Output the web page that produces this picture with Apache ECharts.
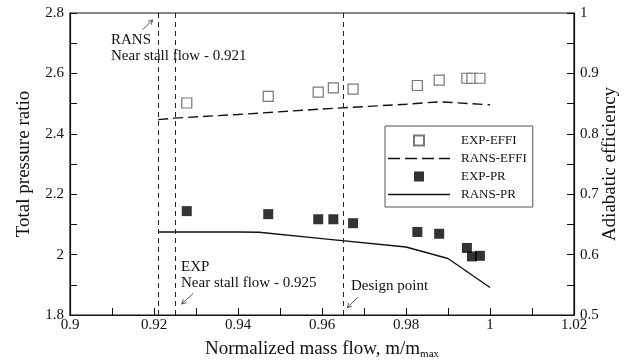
<!DOCTYPE html>
<html lang="en">
<head>
    <meta charset="UTF-8">
    <title>Pressure ratio and efficiency</title>
    <script src="https://cdn.jsdelivr.net/npm/echarts@6/dist/echarts.min.js"></script>
    <style>
        body { margin: 0; background: #fff; }
    </style>
</head>
<body>
    <div id="main" style="width: 631px; height: 362px;"></div>
    <script>
        // experiment: mass flow points (shared by both measured series)
        const expFlow = [0.9278, 0.9472, 0.9591, 0.9627, 0.9674, 0.9827, 0.9879, 0.9945, 0.9957, 0.9976];
        const expEffi = [0.851, 0.862, 0.869, 0.876, 0.874, 0.880, 0.889, 0.892, 0.892, 0.892];
        const expPr = [2.144, 2.134, 2.117, 2.117, 2.104, 2.075, 2.069, 2.022, 1.994, 1.996];

        // RANS curves
        const ransEffFlow = [0.921, 0.925, 0.94, 0.96, 0.98, 0.988, 1.0];
        const ransEffi = [0.8235, 0.826, 0.832, 0.841, 0.849, 0.853, 0.848];
        const ransPrFlow = [0.921, 0.94, 0.945, 0.96, 0.98, 0.99, 1.0];
        const ransPr = [2.075, 2.075, 2.074, 2.053, 2.025, 1.987, 1.891];

        // vertical markers: RANS stall, EXP stall, design point
        const markerFlows = [0.921, 0.925, 0.965];

        const serif = '"Liberation Serif", "DejaVu Serif", serif';
        const pair = (xs, ys) => xs.map((x, i) => [x, ys[i]]);

        // legend icons drawn as paths (keep aspect -> thin bars / squares)
        const iconSquare = 'path://M0,0H10V10H0Z';
        const iconSolid = 'path://M0,0H62V1.4H0Z';
        const iconDashed = 'path://M0,0H12V1.4H0Z M17,0H29V1.4H17Z M34,0H46V1.4H34Z M51,0H62V1.4H51Z';

        var myChart = echarts.init(document.getElementById('main'));

        // little arrow drawn as a line plus a two-stroke head at (x2, y2)
        function arrow(x1, y1, x2, y2) {
            const a = Math.atan2(y2 - y1, x2 - x1), h = 5, s = 0.5;
            return {
                type: 'group',
                children: [
                    { type: 'line', shape: { x1: x1, y1: y1, x2: x2, y2: y2 }, style: { stroke: '#333', lineWidth: 0.8 } },
                    { type: 'polyline', shape: { points: [
                        [x2 - h * Math.cos(a - s), y2 - h * Math.sin(a - s)],
                        [x2, y2],
                        [x2 - h * Math.cos(a + s), y2 - h * Math.sin(a + s)]
                    ] }, style: { stroke: '#333', lineWidth: 0.8, fill: null } }
                ]
            };
        }

        function note(x, y, text) {
            return {
                type: 'text', left: x, top: y,
                style: { text: text, font: '15px ' + serif, fill: '#111', lineHeight: 16 }
            };
        }

        const oddHidden = (step) => function (v) {
            const k = Math.round(v / step);
            return k % 2 === 0 ? String(+v.toFixed(2)) : '';
        };

        option = {
            animation: false,
            backgroundColor: '#fff',
            textStyle: { fontFamily: serif, color: '#111' },
            grid: {
                left: 70, right: 57, top: 13, bottom: 47,
                outerBoundsMode: 'none',
                show: true, borderColor: '#111', borderWidth: 1.2, backgroundColor: 'transparent'
            },
            legend: {
                orient: 'vertical',
                left: 385, top: 126,
                padding: [8, 6, 6, 3],
                itemWidth: 62, itemHeight: 10, itemGap: 5,
                symbolKeepAspect: true,
                borderColor: '#555', borderWidth: 1,
                backgroundColor: '#fff',
                textStyle: { fontFamily: serif, fontSize: 13, color: '#111', padding: [0, 0, 0, 6] },
                data: [
                    { name: 'EXP-EFFI', icon: iconSquare },
                    { name: 'RANS-EFFI', icon: iconDashed },
                    { name: 'EXP-PR', icon: iconSquare },
                    { name: 'RANS-PR', icon: iconSolid }
                ]
            },
            xAxis: {
                type: 'value', min: 0.9, max: 1.02, interval: 0.01,
                name: '{a|Normalized mass flow, m/m}{s|max}',
                nameLocation: 'middle', nameGap: 24, nameMoveOverlap: false,
                nameTextStyle: {
                    rich: {
                        a: { fontFamily: serif, fontSize: 19, color: '#111' },
                        s: { fontFamily: serif, fontSize: 11, color: '#111', padding: [10, 0, 0, 0] }
                    }
                },
                axisLine: { lineStyle: { color: '#111', width: 1.2 } },
                axisTick: { inside: true, length: 7, lineStyle: { color: '#111' } },
                axisLabel: { fontFamily: serif, fontSize: 15, color: '#111', margin: 3, formatter: oddHidden(0.01) },
                splitLine: { show: false }
            },
            yAxis: [
                {
                    type: 'value', min: 1.8, max: 2.8, interval: 0.1,
                    name: 'Total pressure ratio',
                    nameLocation: 'middle', nameGap: 36, nameMoveOverlap: false,
                    nameTextStyle: { fontFamily: serif, fontSize: 19, color: '#111' },
                    axisLine: { show: true, lineStyle: { color: '#111', width: 1.2 } },
                    axisTick: { inside: true, length: 7, lineStyle: { color: '#111' } },
                    axisLabel: { fontFamily: serif, fontSize: 15, color: '#111', margin: 6, formatter: oddHidden(0.1) },
                    splitLine: { show: false }
                },
                {
                    type: 'value', min: 0.5, max: 1, interval: 0.05,
                    name: 'Adiabatic efficiency',
                    nameLocation: 'middle', nameGap: 27, nameMoveOverlap: false,
                    nameTextStyle: { fontFamily: serif, fontSize: 19, color: '#111' },
                    axisLine: { show: true, lineStyle: { color: '#111', width: 1.2 } },
                    axisTick: { inside: true, length: 7, lineStyle: { color: '#111' } },
                    axisLabel: { fontFamily: serif, fontSize: 15, color: '#111', margin: 6, formatter: oddHidden(0.05) },
                    splitLine: { show: false }
                }
            ],
            series: [
                {
                    name: 'EXP-EFFI', type: 'scatter', yAxisIndex: 1,
                    symbol: 'rect', symbolSize: 10,
                    itemStyle: { color: '#fff', borderColor: '#555', borderWidth: 1.2 },
                    data: pair(expFlow, expEffi),
                    z: 3
                },
                {
                    name: 'RANS-EFFI', type: 'line', yAxisIndex: 1,
                    symbol: 'none',
                    lineStyle: { color: '#111', width: 1.4, type: [10, 5] },
                    itemStyle: { color: '#111' },
                    data: pair(ransEffFlow, ransEffi),
                    markLine: {
                        silent: true, symbol: 'none', precision: 4,
                        label: { show: false },
                        lineStyle: { color: '#222', width: 1, type: [5, 4] },
                        data: markerFlows.map(v => ({ xAxis: v }))
                    }
                },
                {
                    name: 'EXP-PR', type: 'scatter', yAxisIndex: 0,
                    symbol: 'rect', symbolSize: 10,
                    itemStyle: { color: '#000' },
                    data: pair(expFlow, expPr),
                    z: 3
                },
                {
                    name: 'RANS-PR', type: 'line', yAxisIndex: 0,
                    symbol: 'none',
                    lineStyle: { color: '#111', width: 1.4 },
                    itemStyle: { color: '#111' },
                    data: pair(ransPrFlow, ransPr)
                }
            ],
            graphic: [
                note(111, 32, 'RANS\nNear stall flow - 0.921'),
                arrow(142.7, 29.5, 152.7, 20),
                note(181, 259, 'EXP\nNear stall flow - 0.925'),
                arrow(193.3, 293.3, 181.7, 304),
                note(351, 278, 'Design point'),
                arrow(357.7, 297.3, 347.3, 307.7)
            ]
        };
        myChart.setOption(option);
    </script>
</body>
</html>
